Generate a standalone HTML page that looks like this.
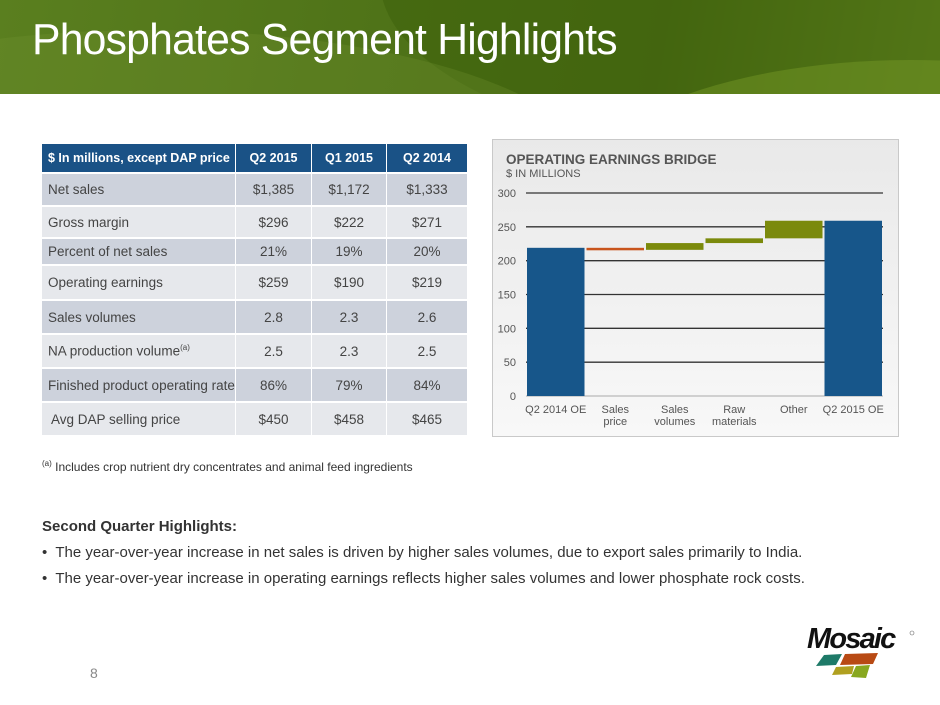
<!DOCTYPE html>
<html><head><meta charset="utf-8"><style>
body{margin:0;width:940px;height:705px;position:relative;background:#fff;font-family:"Liberation Sans",Arial,sans-serif;overflow:hidden}
.banner{position:absolute;left:0;top:0;width:940px;height:94px;background:linear-gradient(100deg,#5a7f1f 0%,#4f7318 40%,#4a6b14 70%,#6a8c24 100%);overflow:hidden}
.banner .sw{position:absolute;border-radius:50%}
.title{position:absolute;left:32px;top:15px;color:#fff;font-size:44px;letter-spacing:-0.8px;transform:scaleX(0.97);transform-origin:left top;white-space:nowrap}
table{position:absolute;left:41px;top:142px;border-collapse:separate;border-spacing:1px 2px;font-size:13.5px;color:#444}
td,th{padding:0}
th{background:#1a5286;color:#fff;font-weight:bold;font-size:12.5px;height:28px;text-align:center}
th:first-child{text-align:left;padding-left:6px}
td{text-align:center}
td:first-child{text-align:left;padding-left:6px}
tr.o td{background:#cdd2dc}
tr.e td{background:#e6e8ec}
.note{position:absolute;left:42px;top:459px;font-size:12px;color:#333}
.note sup{font-size:8px}
.hl{position:absolute;left:42px;top:514px;font-size:15px;color:#333;line-height:26px}
.hl b{color:#333}
.pg{position:absolute;left:90px;top:665px;font-size:14px;color:#888}
</style></head><body>
<div class="banner">
<div class="sw" style="left:380px;top:-200px;width:900px;height:360px;background:rgba(60,95,10,0.5)"></div>
<div class="sw" style="left:-300px;top:30px;width:900px;height:300px;background:rgba(120,150,50,0.25)"></div>
<div class="sw" style="left:560px;top:60px;width:700px;height:300px;background:rgba(120,155,40,0.45)"></div>
<div class="title">Phosphates Segment Highlights</div>
</div>

<table>
<tr><th style="width:187px">$ In millions, except DAP price</th><th style="width:75px">Q2 2015</th><th style="width:74px">Q1 2015</th><th style="width:80px">Q2 2014</th></tr>
<tr class="o" style="height:31px"><td>Net sales</td><td>$1,385</td><td>$1,172</td><td>$1,333</td></tr>
<tr class="e" style="height:30px"><td>Gross margin</td><td>$296</td><td>$222</td><td>$271</td></tr>
<tr class="o" style="height:25px"><td>Percent of net sales</td><td>21%</td><td>19%</td><td>20%</td></tr>
<tr class="e" style="height:33px"><td>Operating earnings</td><td>$259</td><td>$190</td><td>$219</td></tr>
<tr class="o" style="height:32px"><td>Sales volumes</td><td>2.8</td><td>2.3</td><td>2.6</td></tr>
<tr class="e" style="height:32px"><td>NA production volume<sup style="font-size:8px">(a)</sup></td><td>2.5</td><td>2.3</td><td>2.5</td></tr>
<tr class="o" style="height:32px"><td>Finished product operating rate</td><td>86%</td><td>79%</td><td>84%</td></tr>
<tr class="e" style="height:32px"><td style="padding-left:9px">Avg DAP selling price</td><td>$450</td><td>$458</td><td>$465</td></tr>
</table>

<svg id="chart" style="position:absolute;left:0;top:0" width="940" height="705">
<defs><linearGradient id="bg" x1="0" y1="0" x2="0" y2="1"><stop offset="0" stop-color="#e9e9e9"/><stop offset="1" stop-color="#f8f8f8"/></linearGradient></defs>
<rect x="492.5" y="139.5" width="406" height="297" fill="url(#bg)" stroke="#c9c9c9"/>
<text x="506" y="164" font-size="13.5" font-weight="bold" fill="#555">OPERATING EARNINGS BRIDGE</text>
<text x="506" y="177" font-size="11" fill="#555">$ IN MILLIONS</text>
<g id="g"></g>
</svg>

<div class="note"><sup>(a)</sup> Includes crop nutrient dry concentrates and animal feed ingredients</div>
<div class="hl"><b>Second Quarter Highlights:</b><br>
•&nbsp; The year-over-year increase in net sales is driven by higher sales volumes, due to export sales primarily to India.<br>
•&nbsp; The year-over-year increase in operating earnings reflects higher sales volumes and lower phosphate rock costs.</div>
<div class="pg">8</div>

<svg style="position:absolute;left:800px;top:620px" width="120" height="70">
<text x="7" y="28" font-size="29" font-weight="bold" font-style="italic" fill="#111" letter-spacing="-1.8">Mosaic</text>
<circle cx="112" cy="13" r="2" fill="none" stroke="#666" stroke-width="0.6"/>
<polygon points="24,35 42,34 36,45 16,46" fill="#1e7a68"/>
<polygon points="45,34 78,33 73,44 40,45" fill="#b84a14"/>
<polygon points="36,47 54,46 52,54 32,55" fill="#b0a020"/>
<polygon points="56,46 70,45 66,58 51,57" fill="#88a820"/>
</svg>

<script>
const categories=["Q2 2014 OE","Sales price","Sales volumes","Raw materials","Other","Q2 2015 OE"];
const labelLines=[["Q2 2014 OE"],["Sales","price"],["Sales","volumes"],["Raw","materials"],["Other"],["Q2 2015 OE"]];
const startValue=219;
const deltas=[-3,10,7,26];
const endValue=259;
const yTicks=[0,50,100,150,200,250,300];
const NS="http://www.w3.org/2000/svg";
const g=document.getElementById('g');
const x0=526,x1=883,yBase=396,yTop=193;
const y=v=>yBase-(v/300)*(yBase-yTop);
const bw=(x1-x0)/categories.length;
const xc=i=>x0+bw*i;
function mk(t,a){const e=document.createElementNS(NS,t);for(const k in a)e.setAttribute(k,a[k]);g.appendChild(e);return e;}
yTicks.forEach(t=>{
  const l=mk('line',{x1:x0,x2:x1,y1:y(t),y2:y(t),stroke:t===0?'#aaa':'#333','stroke-width':t===0?1:1.3});
  
  
  const tx=mk('text',{x:516,y:y(t)+4,'font-size':11,fill:'#555','text-anchor':'end'});tx.textContent=t;
  
  
});
function bar(i,a,b,col,name){
  const top=Math.max(a,b),bot=Math.min(a,b);
  const h=Math.max(y(bot)-y(top),2.5);
  const r=mk('rect',{x:xc(i)+1,y:y(top),width:bw-2,height:h,fill:col});
  
  
}
bar(0,0,startValue,'#17568a','bar-q2-2014-oe');
let cur=startValue;
deltas.forEach((d,k)=>{
  const n=cur+d;
  bar(k+1,cur,n,d<0?'#c8541c':'#7b8a0c','bar-'+categories[k+1].toLowerCase().replace(/ /g,'-'));
  cur=n;
});
bar(5,0,endValue,'#17568a','bar-q2-2015-oe');
labelLines.forEach((ls,i)=>{
  ls.forEach((s,j)=>{
    const t=mk('text',{x:xc(i)+bw/2,y:413+j*12,'font-size':11,fill:'#555','text-anchor':'middle'});t.textContent=s;
    
    
  });
});
</script>
</body></html>
